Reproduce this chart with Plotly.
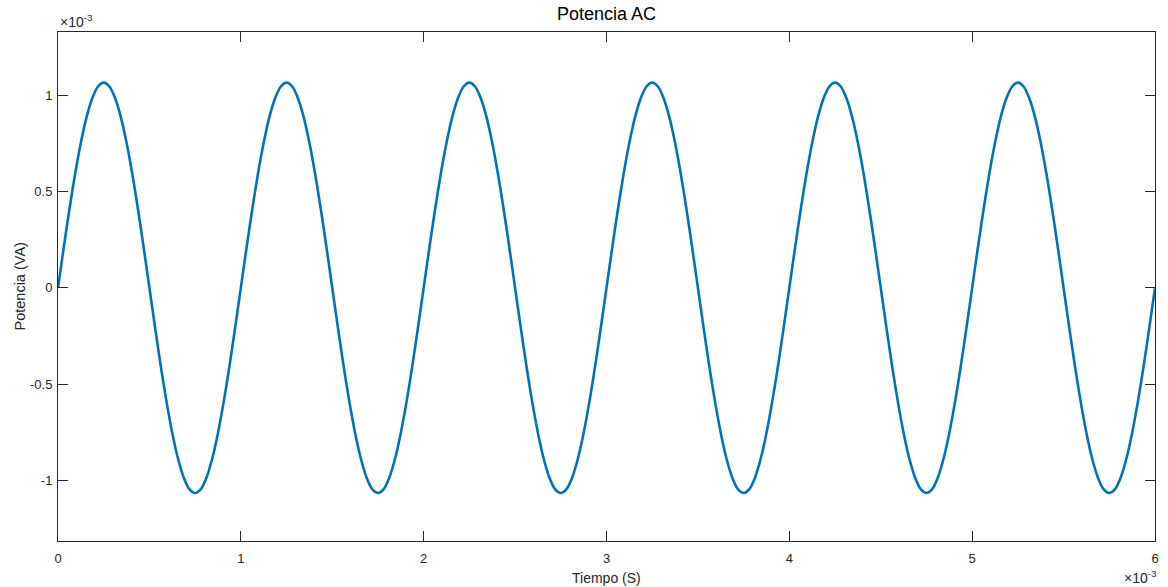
import plotly.graph_objects as go

# Time samples (in units of 1e-3 s, i.e. ms)
time_ms = [
    0.0, 0.03125, 0.0625, 0.09375, 0.125, 0.15625, 0.1875, 0.21875, 0.25, 0.28125, 0.3125, 0.34375, 0.375, 0.40625, 0.4375, 0.46875,
    0.5, 0.53125, 0.5625, 0.59375, 0.625, 0.65625, 0.6875, 0.71875, 0.75, 0.78125, 0.8125, 0.84375, 0.875, 0.90625, 0.9375, 0.96875,
    1.0, 1.03125, 1.0625, 1.09375, 1.125, 1.15625, 1.1875, 1.21875, 1.25, 1.28125, 1.3125, 1.34375, 1.375, 1.40625, 1.4375, 1.46875,
    1.5, 1.53125, 1.5625, 1.59375, 1.625, 1.65625, 1.6875, 1.71875, 1.75, 1.78125, 1.8125, 1.84375, 1.875, 1.90625, 1.9375, 1.96875,
    2.0, 2.03125, 2.0625, 2.09375, 2.125, 2.15625, 2.1875, 2.21875, 2.25, 2.28125, 2.3125, 2.34375, 2.375, 2.40625, 2.4375, 2.46875,
    2.5, 2.53125, 2.5625, 2.59375, 2.625, 2.65625, 2.6875, 2.71875, 2.75, 2.78125, 2.8125, 2.84375, 2.875, 2.90625, 2.9375, 2.96875,
    3.0, 3.03125, 3.0625, 3.09375, 3.125, 3.15625, 3.1875, 3.21875, 3.25, 3.28125, 3.3125, 3.34375, 3.375, 3.40625, 3.4375, 3.46875,
    3.5, 3.53125, 3.5625, 3.59375, 3.625, 3.65625, 3.6875, 3.71875, 3.75, 3.78125, 3.8125, 3.84375, 3.875, 3.90625, 3.9375, 3.96875,
    4.0, 4.03125, 4.0625, 4.09375, 4.125, 4.15625, 4.1875, 4.21875, 4.25, 4.28125, 4.3125, 4.34375, 4.375, 4.40625, 4.4375, 4.46875,
    4.5, 4.53125, 4.5625, 4.59375, 4.625, 4.65625, 4.6875, 4.71875, 4.75, 4.78125, 4.8125, 4.84375, 4.875, 4.90625, 4.9375, 4.96875,
    5.0, 5.03125, 5.0625, 5.09375, 5.125, 5.15625, 5.1875, 5.21875, 5.25, 5.28125, 5.3125, 5.34375, 5.375, 5.40625, 5.4375, 5.46875,
    5.5, 5.53125, 5.5625, 5.59375, 5.625, 5.65625, 5.6875, 5.71875, 5.75, 5.78125, 5.8125, 5.84375, 5.875, 5.90625, 5.9375, 5.96875,
    6.0,
]
# Power (in units of 1e-3 VA)
potencia = [
    0.0, 0.208, 0.408, 0.592, 0.753, 0.886, 0.984, 1.045, 1.065, 1.045, 0.984, 0.886, 0.753, 0.592, 0.408, 0.208,
    0.0, -0.208, -0.408, -0.592, -0.753, -0.886, -0.984, -1.045, -1.065, -1.045, -0.984, -0.886, -0.753, -0.592, -0.408, -0.208,
    0.0, 0.208, 0.408, 0.592, 0.753, 0.886, 0.984, 1.045, 1.065, 1.045, 0.984, 0.886, 0.753, 0.592, 0.408, 0.208,
    0.0, -0.208, -0.408, -0.592, -0.753, -0.886, -0.984, -1.045, -1.065, -1.045, -0.984, -0.886, -0.753, -0.592, -0.408, -0.208,
    0.0, 0.208, 0.408, 0.592, 0.753, 0.886, 0.984, 1.045, 1.065, 1.045, 0.984, 0.886, 0.753, 0.592, 0.408, 0.208,
    0.0, -0.208, -0.408, -0.592, -0.753, -0.886, -0.984, -1.045, -1.065, -1.045, -0.984, -0.886, -0.753, -0.592, -0.408, -0.208,
    0.0, 0.208, 0.408, 0.592, 0.753, 0.886, 0.984, 1.045, 1.065, 1.045, 0.984, 0.886, 0.753, 0.592, 0.408, 0.208,
    0.0, -0.208, -0.408, -0.592, -0.753, -0.886, -0.984, -1.045, -1.065, -1.045, -0.984, -0.886, -0.753, -0.592, -0.408, -0.208,
    0.0, 0.208, 0.408, 0.592, 0.753, 0.886, 0.984, 1.045, 1.065, 1.045, 0.984, 0.886, 0.753, 0.592, 0.408, 0.208,
    0.0, -0.208, -0.408, -0.592, -0.753, -0.886, -0.984, -1.045, -1.065, -1.045, -0.984, -0.886, -0.753, -0.592, -0.408, -0.208,
    0.0, 0.208, 0.408, 0.592, 0.753, 0.886, 0.984, 1.045, 1.065, 1.045, 0.984, 0.886, 0.753, 0.592, 0.408, 0.208,
    0.0, -0.208, -0.408, -0.592, -0.753, -0.886, -0.984, -1.045, -1.065, -1.045, -0.984, -0.886, -0.753, -0.592, -0.408, -0.208,
    0.0,
]

x_tick_vals = [0, 1, 2, 3, 4, 5, 6]
x_tick_text = ["0", "1", "2", "3", "4", "5", "6"]
y_tick_vals = [-1, -0.5, 0, 0.5, 1]
y_tick_text = ["-1", "-0.5", "0", "0.5", "1"]

FONT = "Liberation Sans, Arial, Helvetica, sans-serif"
AXC = "#262626"

fig = go.Figure()
fig.add_trace(go.Scatter(
    x=time_ms, y=potencia, mode="lines",
    line=dict(color="#0072BD", width=2.6, shape="spline", smoothing=0.8),
    showlegend=False, hoverinfo="skip",
))

axis_common = dict(
    showline=True, linecolor=AXC, linewidth=1, mirror="ticks",
    ticks="inside", ticklen=10, tickwidth=1, tickcolor=AXC,
    showgrid=False, zeroline=False,
    tickfont=dict(family=FONT, size=13, color=AXC),
)

fig.update_layout(
    width=1168, height=587,
    margin=dict(l=57.5, r=9, t=31.5, b=46),
    plot_bgcolor="white", paper_bgcolor="white",
    xaxis=dict(range=[0, 6], tickvals=x_tick_vals, ticktext=x_tick_text,
               ticklabelstandoff=5, **axis_common),
    yaxis=dict(range=[-1.314, 1.328], tickvals=y_tick_vals, ticktext=y_tick_text,
               ticklabelstandoff=2, **axis_common),
    annotations=[
        dict(text="Potencia AC", xref="paper", yref="paper", x=0.5, y=1, yshift=6,
             xanchor="center", yanchor="bottom", showarrow=False,
             font=dict(family=FONT, size=18, color="#000000")),
        dict(text="Tiempo (S)", xref="paper", yref="paper", x=0.5, y=0, yshift=-27,
             xanchor="center", yanchor="top", showarrow=False,
             font=dict(family=FONT, size=14, color=AXC)),
        dict(text="Potencia (VA)", xref="paper", yref="paper", x=0, y=0.5, xshift=-49,
             xanchor="left", yanchor="middle", textangle=-90, showarrow=False,
             font=dict(family=FONT, size=14.5, color=AXC)),
        dict(text="×10<sup>-3</sup>", xref="paper", yref="paper", x=0, y=1, yshift=0,
             xanchor="left", yanchor="bottom", showarrow=False,
             font=dict(family=FONT, size=14, color=AXC)),
        dict(text="×10<sup>-3</sup>", xref="paper", yref="paper", x=1, y=0, yshift=-25,
             xanchor="right", yanchor="top", xshift=4, showarrow=False,
             font=dict(family=FONT, size=14, color=AXC)),
    ],
)

fig.write_html("out.html")
